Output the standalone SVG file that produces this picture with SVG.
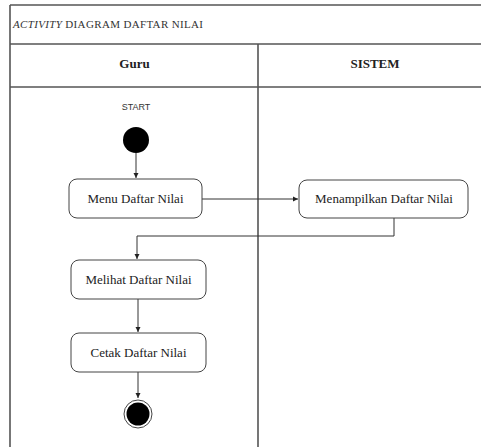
<svg xmlns="http://www.w3.org/2000/svg" width="481" height="447" viewBox="0 0 481 447">
<style>
.frame{stroke:#555;stroke-width:1.6;fill:none}
.box{fill:#fff;stroke:#444;stroke-width:1}
.t{font-family:"Liberation Serif",serif;font-size:13px;fill:#222;text-anchor:middle}
.h{font-family:"Liberation Serif",serif;font-size:13px;font-weight:bold;fill:#222;text-anchor:middle}
.c{stroke:#333;stroke-width:1;fill:none}
</style>
<defs>
<marker id="ah" markerWidth="6" markerHeight="6" refX="5" refY="3" orient="auto" markerUnits="userSpaceOnUse">
<path d="M0,0.5 L5,3 L0,5.5 Z" fill="#222"/>
</marker>
</defs>
<rect width="481" height="447" fill="#fff"/>
<g id="frame">
<path class="frame" d="M10,5 H481 M10,5 V447 M10,44 H481 M10,87 H481 M258,44 V447"/>
<text x="13" y="28" font-family="Liberation Serif,serif" font-size="11" fill="#333" textLength="190" lengthAdjust="spacing"><tspan font-style="italic">ACTIVITY</tspan> DIAGRAM DAFTAR NILAI</text>
<text class="h" x="134.5" y="68">Guru</text>
<text class="h" x="375" y="68">SISTEM</text>
</g>
<g id="connectors">
<path class="c" d="M136,153 V178" marker-end="url(#ah)"/>
<path class="c" d="M202,199 H298" marker-end="url(#ah)"/>
<path class="c" d="M394,218 V236 H137 V259" marker-end="url(#ah)"/>
<path class="c" d="M138,299 V332" marker-end="url(#ah)"/>
<path class="c" d="M138,372 V398" marker-end="url(#ah)"/>
</g>
<g id="start">
<text x="136" y="110" font-family="Liberation Sans,sans-serif" font-size="9" fill="#333" text-anchor="middle">START</text>
<circle cx="136" cy="140" r="13" fill="#000"/>
</g>
<g id="menu">
<rect class="box" x="69" y="179" width="133" height="39" rx="8"/>
<text class="t" x="135.5" y="203">Menu Daftar Nilai</text>
</g>
<g id="menampilkan">
<rect class="box" x="299" y="180" width="169" height="38" rx="8"/>
<text class="t" x="384" y="203">Menampilkan Daftar Nilai</text>
</g>
<g id="melihat">
<rect class="box" x="71" y="260" width="135" height="39" rx="8"/>
<text class="t" x="138.5" y="284">Melihat Daftar Nilai</text>
</g>
<g id="cetak">
<rect class="box" x="71" y="333" width="135" height="39" rx="8"/>
<text class="t" x="138.5" y="357">Cetak Daftar Nilai</text>
</g>
<g id="end">
<circle cx="138" cy="414" r="14" fill="#fff" stroke="#444" stroke-width="1"/>
<circle cx="138" cy="414" r="11.5" fill="#000"/>
</g>
</svg>
